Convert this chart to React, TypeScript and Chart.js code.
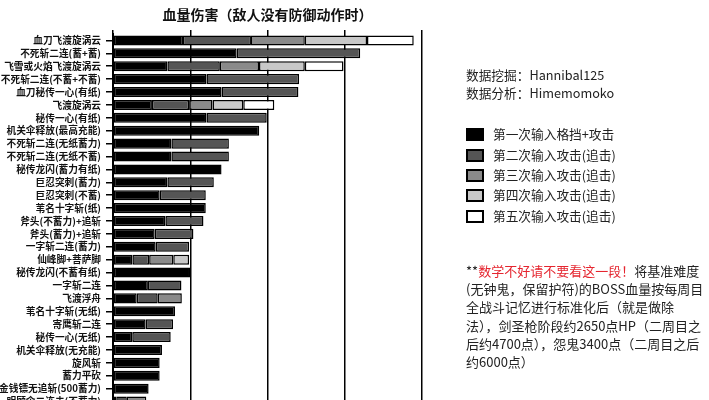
import React, { useEffect, useRef } from "react";
import { Chart, registerables } from "chart.js";

Chart.register(...registerables);

const chartTitle = "血量伤害（敌人没有防御动作时）";

const categories = [
  "血刀飞渡旋涡云",
  "不死斩二连(蓄+蓄)",
  "飞雪或火焰飞渡旋涡云",
  "不死斩二连(不蓄+不蓄)",
  "血刀秘传一心(有纸)",
  "飞渡旋涡云",
  "秘传一心(有纸)",
  "机关伞释放(最高充能)",
  "不死斩二连(无纸蓄力)",
  "不死斩二连(无纸不蓄)",
  "秘传龙闪(蓄力有纸)",
  "巨忍突刺(蓄力)",
  "巨忍突刺(不蓄)",
  "苇名十字斩(纸)",
  "斧头(不蓄力)+追斩",
  "斧头(蓄力)+追斩",
  "一字斩二连(蓄力)",
  "仙峰脚+菩萨脚",
  "秘传龙闪(不蓄有纸)",
  "一字斩二连",
  "飞渡浮舟",
  "苇名十字斩(无纸)",
  "寄鹰斩二连",
  "秘传一心(无纸)",
  "机关伞释放(无充能)",
  "旋风斩",
  "蓄力平砍",
  "金钱镖无追斩(500蓄力)",
  "明顾伞二连击(不蓄力)",
];

const firstHit = [906, 1600, 704, 1210, 1405, 504, 1210, 1893, 756, 756, 1405, 704, 604, 1201, 678, 539, 552, 251, 1003, 452, 307, 803, 422, 249, 634, 604, 604, 461, 42];
const secondHit = [880, 1600, 679, 1199, 995, 481, 780, null, 744, 744, null, 601, 597, null, 493, 502, 433, 217, null, 434, 272, null, 355, 498, null, null, null, null, 137];
const thirdHit = [697, null, 507, null, null, 303, null, null, null, null, null, null, null, null, null, null, null, 312, null, null, 312, null, null, null, null, null, null, null, 252];
const fourthHit = [805, null, 593, null, null, 398, null, null, null, null, null, null, null, null, null, null, null, 205, null, null, null, null, null, null, null, null, null, null, null];
const fifthHit = [605, null, 501, null, null, 402, null, null, null, null, null, null, null, null, null, null, null, null, null, null, null, null, null, null, null, null, null, null, null];

const seriesNames = [
  "第一次输入格挡+攻击",
  "第二次输入攻击(追击)",
  "第三次输入攻击(追击)",
  "第四次输入攻击(追击)",
  "第五次输入攻击(追击)",
];
const seriesColors = ["#000000", "#555555", "#8a8a8a", "#c8c8c8", "#ffffff"];

const xMin = 0;
const xMax = 4000;
const xStep = 1000;

const credits = ["数据挖掘：Hannibal125", "数据分析：Himemomoko"];
const noteWarn = "数学不好请不要看这一段！";
const noteLines = [
  "将基准难度",
  "(无钟鬼，保留护符)的BOSS血量按每周目",
  "全战斗记忆进行标准化后（就是做除",
  "法），剑圣枪阶段约2650点HP（二周目之",
  "后约4700点），怨鬼3400点（二周目之后",
  "约6000点）",
];

const FONT = "'Noto Sans CJK SC', 'Noto Sans', sans-serif";

const areaTitle = {
  id: "areaTitle",
  afterDraw(chart: any) {
    const { ctx, chartArea } = chart;
    ctx.save();
    ctx.font = `bold 14px ${FONT}`;
    ctx.fillStyle = "#111";
    ctx.textAlign = "center";
    ctx.textBaseline = "middle";
    ctx.fillText(chartTitle, (chartArea.left + chartArea.right) / 2, 15);
    ctx.restore();
  },
};

export default function App() {
  const ref = useRef<HTMLCanvasElement | null>(null);

  useEffect(() => {
    if (!ref.current) return;
    const series = [firstHit, secondHit, thirdHit, fourthHit, fifthHit];
    const chart = new Chart(ref.current, {
      type: "bar",
      data: {
        labels: categories,
        datasets: series.map((d, i) => ({
          label: seriesNames[i],
          data: d,
          backgroundColor: seriesColors[i],
          borderColor: "#000",
          borderWidth: 1.5,
          borderSkipped: false,
          categoryPercentage: 1,
          barPercentage: 0.78,
        })),
      },
      options: {
        indexAxis: "y",
        responsive: false,
        animation: false,
        layout: { padding: { top: 30, right: 287, bottom: 12, left: 0 } },
        plugins: {
          legend: { display: false },
          tooltip: { enabled: false },
          title: { display: false },
        },
        scales: {
          x: {
            type: "linear",
            position: "top",
            stacked: true,
            min: xMin,
            max: xMax,
            ticks: { display: false, stepSize: xStep },
            grid: { color: "#000", lineWidth: 1.5, drawTicks: true, tickLength: 4 },
            border: { display: false },
            afterFit: (s: any) => {
              s.height = 4;
            },
          },
          y: {
            type: "category",
            stacked: true,
            offset: true,
            ticks: {
              color: "#111",
              autoSkip: false,
              padding: 5,
              font: { size: 9.7, weight: "bold", family: FONT },
            },
            grid: {
              drawOnChartArea: false,
              drawTicks: true,
              tickLength: 7,
              color: "#000",
              lineWidth: 1.5,
              offset: false,
            },
            border: { display: true, color: "#000", width: 2 },
            afterFit: (s: any) => {
              s.width = 113;
            },
          },
        },
      },
      plugins: [areaTitle],
    } as any);
    return () => chart.destroy();
  }, []);

  const legendCenters = [134, 155, 175, 195, 216];
  const noteCenters = [271, 289, 307, 326, 344, 362];

  return (
    <div
      style={{
        position: "absolute",
        left: 0,
        top: 0,
        width: 709,
        height: 400,
        overflow: "hidden",
        background: "#fff",
        fontFamily: FONT,
        color: "#222",
      }}
    >
      <canvas ref={ref} width={709} height={420} style={{ position: "absolute", left: 0, top: 0, width: 709, height: 420 }} />
      {credits.map((c, i) => (
        <div key={c} style={{ position: "absolute", left: 466, top: (i === 0 ? 75 : 93) - 9, fontSize: 12.7, lineHeight: "18px", whiteSpace: "nowrap" }}>
          {c}
        </div>
      ))}
      {seriesNames.map((n, i) => (
        <div key={n} style={{ position: "absolute", left: 466, top: legendCenters[i] - 9, height: 18, display: "flex", alignItems: "center", whiteSpace: "nowrap" }}>
          <span
            style={{
              display: "inline-block",
              width: 18,
              height: 13,
              boxSizing: "border-box",
              border: "2px solid #000",
              background: seriesColors[i],
            }}
          />
          <span style={{ marginLeft: 9, fontSize: 12.7, lineHeight: "18px" }}>{n}</span>
        </div>
      ))}
      {noteLines.map((line, i) => (
        <div key={i} style={{ position: "absolute", left: 466, top: noteCenters[i] - 9, fontSize: 13, lineHeight: "18px", whiteSpace: "nowrap" }}>
          {i === 0 ? (
            <>
              <span>**</span>
              <span style={{ color: "#e5252f" }}>{noteWarn}</span>
              <span>{line}</span>
            </>
          ) : (
            line
          )}
        </div>
      ))}
    </div>
  );
}
